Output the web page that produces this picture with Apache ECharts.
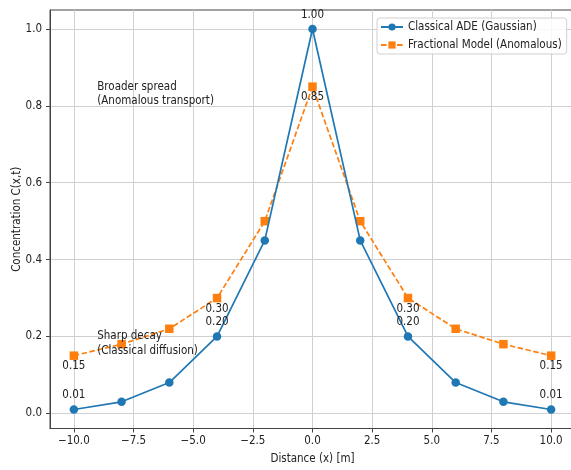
<!DOCTYPE html>
<html><head><meta charset="utf-8">
<script src="https://cdn.jsdelivr.net/npm/echarts@6/dist/echarts.min.js"></script>
<style>html,body{margin:0;padding:0;background:#fff;overflow:hidden}#c{width:571px;height:470px}</style>
</head><body><div id="c"></div>
<script>
const xValues = [-10, -8, -6, -4, -2, 0, 2, 4, 6, 8, 10];
const classical = [0.01, 0.03, 0.08, 0.20, 0.45, 1.00, 0.45, 0.20, 0.08, 0.03, 0.01];
const fractional = [0.15, 0.18, 0.22, 0.30, 0.50, 0.85, 0.50, 0.30, 0.22, 0.18, 0.15];
const labeledX = [-10, -4, 0, 4, 10];
const xTicks = [-10, -7.5, -5, -2.5, 0, 2.5, 5, 7.5, 10];
const yTicks = [0, 0.2, 0.4, 0.6, 0.8, 1.0];
const noteX = [-9, -9];
const noteY = [0.8, 0.15];
const noteText = ['Broader spread\n(Anomalous transport)', 'Sharp decay\n(Classical diffusion)'];
const seriesNames = ['Classical ADE (Gaussian)', 'Fractional Model (Anomalous)'];

const FONT = "'DejaVu Sans Condensed', 'DejaVu Sans', sans-serif";
const FS = 11.5;
const TXT = '#222';
const fmt = v => (v < 0 ? '\u2212' : '') + Math.abs(v).toFixed(1);

function pts(vals, offY) {
  return xValues.map((x, i) => ({
    value: [x, vals[i]],
    label: { show: labeledX.includes(x), position: 'inside', offset: [0, offY] }
  }));
}

const chart = echarts.init(document.getElementById('c'), null, { renderer: 'canvas' });
chart.setOption({
  animation: false,
  backgroundColor: '#fff',
  textStyle: { fontFamily: FONT },
  grid: { left: 50, top: 10, width: 525, height: 418.5, outerBoundsMode: 'none', show: true, borderColor: '#444', borderWidth: 1, containLabel: false },
  legend: {
    data: seriesNames,
    orient: 'vertical',
    left: 377, top: 18,
    padding: [3, 5, 3, 3],
    itemGap: 6,
    itemWidth: 22, itemHeight: 9,
    backgroundColor: 'rgba(255,255,255,0.85)',
    borderColor: '#d0d0d0', borderWidth: 1, borderRadius: 3,
    textStyle: { fontFamily: FONT, fontSize: FS, color: TXT }
  },
  xAxis: {
    type: 'value', min: -11, max: 11,
    name: 'Distance (x) [m]', nameLocation: 'middle', nameGap: 25, nameMoveOverlap: false,
    nameTextStyle: { fontFamily: FONT, fontSize: FS, color: TXT },
    axisLine: { show: true, onZero: false, lineStyle: { color: '#444', width: 1 } },
    axisTick: { show: true, length: 4, customValues: xTicks, lineStyle: { color: '#444' } },
    axisLabel: { customValues: xTicks, formatter: fmt, margin: 7, fontFamily: FONT, fontSize: FS, color: TXT },
    splitLine: { show: true, customValues: xTicks, lineStyle: { color: '#d0d0d0', width: 1 } }
  },
  yAxis: {
    type: 'value', min: -0.0395, max: 1.0495,
    name: 'Concentration C(x,t)', nameLocation: 'middle', nameGap: 27, nameMoveOverlap: false,
    nameTextStyle: { fontFamily: FONT, fontSize: FS, color: TXT },
    axisLine: { show: true, onZero: false, lineStyle: { color: '#444', width: 1 } },
    axisTick: { show: true, length: 4, customValues: yTicks, lineStyle: { color: '#444' } },
    axisLabel: { customValues: yTicks, formatter: v => v.toFixed(1), margin: 8, fontFamily: FONT, fontSize: FS, color: TXT },
    splitLine: { show: true, customValues: yTicks, lineStyle: { color: '#d0d0d0', width: 1 } }
  },
  series: [
    {
      name: seriesNames[0], type: 'line', data: pts(classical, -14.5),
      symbol: 'circle', symbolSize: 8.5,
      itemStyle: { color: '#1f77b4' },
      lineStyle: { color: '#1f77b4', width: 1.7 },
      label: { formatter: p => p.value[1].toFixed(2), color: TXT, fontSize: FS, fontFamily: FONT },
      z: 3
    },
    {
      name: seriesNames[1], type: 'line', data: pts(fractional, 10.7),
      symbol: 'rect', symbolSize: 8.5,
      itemStyle: { color: '#ff7f0e' },
      lineStyle: { color: '#ff7f0e', width: 1.7, type: [5.5, 2.5] },
      label: { formatter: p => p.value[1].toFixed(2), color: TXT, fontSize: FS, fontFamily: FONT },
      z: 2
    },
    {
      name: 'notes', type: 'scatter',
      data: noteX.map((x, i) => ({ value: [x, noteY[i]], label: { formatter: noteText[i] } })),
      symbolSize: 1, itemStyle: { color: '#fff', opacity: 0 },
      label: { show: true, opacity: 1, position: [0, 3], align: 'left', verticalAlign: 'bottom', lineHeight: 14.5, fontFamily: FONT, fontSize: FS, color: TXT },
      silent: true, z: 4
    }
  ]
});
</script></body></html>
